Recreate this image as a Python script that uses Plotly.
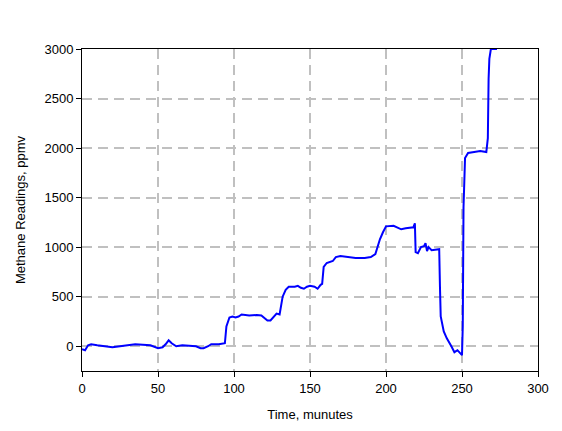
import plotly.graph_objects as go

# readings
time_min = [0, 2, 4, 6, 10, 15, 20, 25, 30, 35, 40, 45, 50, 53, 55, 57, 59, 62, 66, 70, 75, 78, 80, 83, 85, 90, 93, 94,
            95, 96, 97, 99, 101, 103, 105, 110, 115, 118, 120, 122, 124, 126, 128, 130, 131, 132, 134, 136, 140, 142,
            144, 146, 148, 150, 153, 155, 157, 158, 159, 161, 165, 167, 170, 175, 180, 186, 190, 193, 196, 198, 200,
            205, 208, 210, 213, 218, 219, 219.5, 221, 223, 225, 226, 227, 228, 230, 235, 235.5, 236, 238, 240, 243,
            245, 247, 249, 250, 250.5, 251, 252, 254, 258, 262, 266, 267, 267.5, 268, 269, 273]
methane_ppmv = [-30, -40, 10, 20, 10, 0, -10, 0, 10, 20, 15, 10, -20, -10, 20, 60, 30, 0, 10, 5, 0, -20, -20, 0, 20, 20, 30, 30,
                200, 250, 290, 300, 290, 300, 320, 310, 315, 310, 280, 260, 260, 300, 330, 320, 400, 500, 570, 600, 600, 610,
                590, 580, 600, 610, 600, 580, 620, 630, 800, 840, 860, 900, 910, 900, 890, 890, 900, 930, 1080, 1150, 1210,
                1215, 1190, 1180, 1190, 1200, 1240, 950, 940, 1000, 1010, 1040, 960, 1000, 970, 980, 600, 300, 150, 80, 0,
                -60, -40, -80, -90, 200, 1400, 1900, 1950, 1960, 1970, 1960, 2100, 2700, 2900, 3000, 3000]

fig = go.Figure(go.Scatter(x=time_min, y=methane_ppmv, mode='lines', line=dict(color='#0000ff', width=2)))

axis_common = dict(showline=True, linecolor='black', linewidth=1, mirror=True, ticks='outside', ticklen=5,
                   tickcolor='black', showgrid=True, gridcolor='#c0c0c0', gridwidth=2, griddash='10px,6px',
                   zeroline=False, tickfont=dict(size=13, color='black'))
fig.update_xaxes(range=[0, 300], dtick=50, title=dict(text='Time, munutes', font=dict(size=13)), **axis_common)
fig.update_yaxes(range=[-250, 3000], tickvals=[0, 500, 1000, 1500, 2000, 2500, 3000],
                 title=dict(text='Methane Readings, ppmv', font=dict(size=13)), **axis_common)
fig.update_layout(width=562, height=431, plot_bgcolor='white', paper_bgcolor='white', showlegend=False,
                  font=dict(family='Arial, Liberation Sans', color='black'),
                  margin=dict(l=71, r=32, t=41, b=68))
fig.write_html("out.html")
